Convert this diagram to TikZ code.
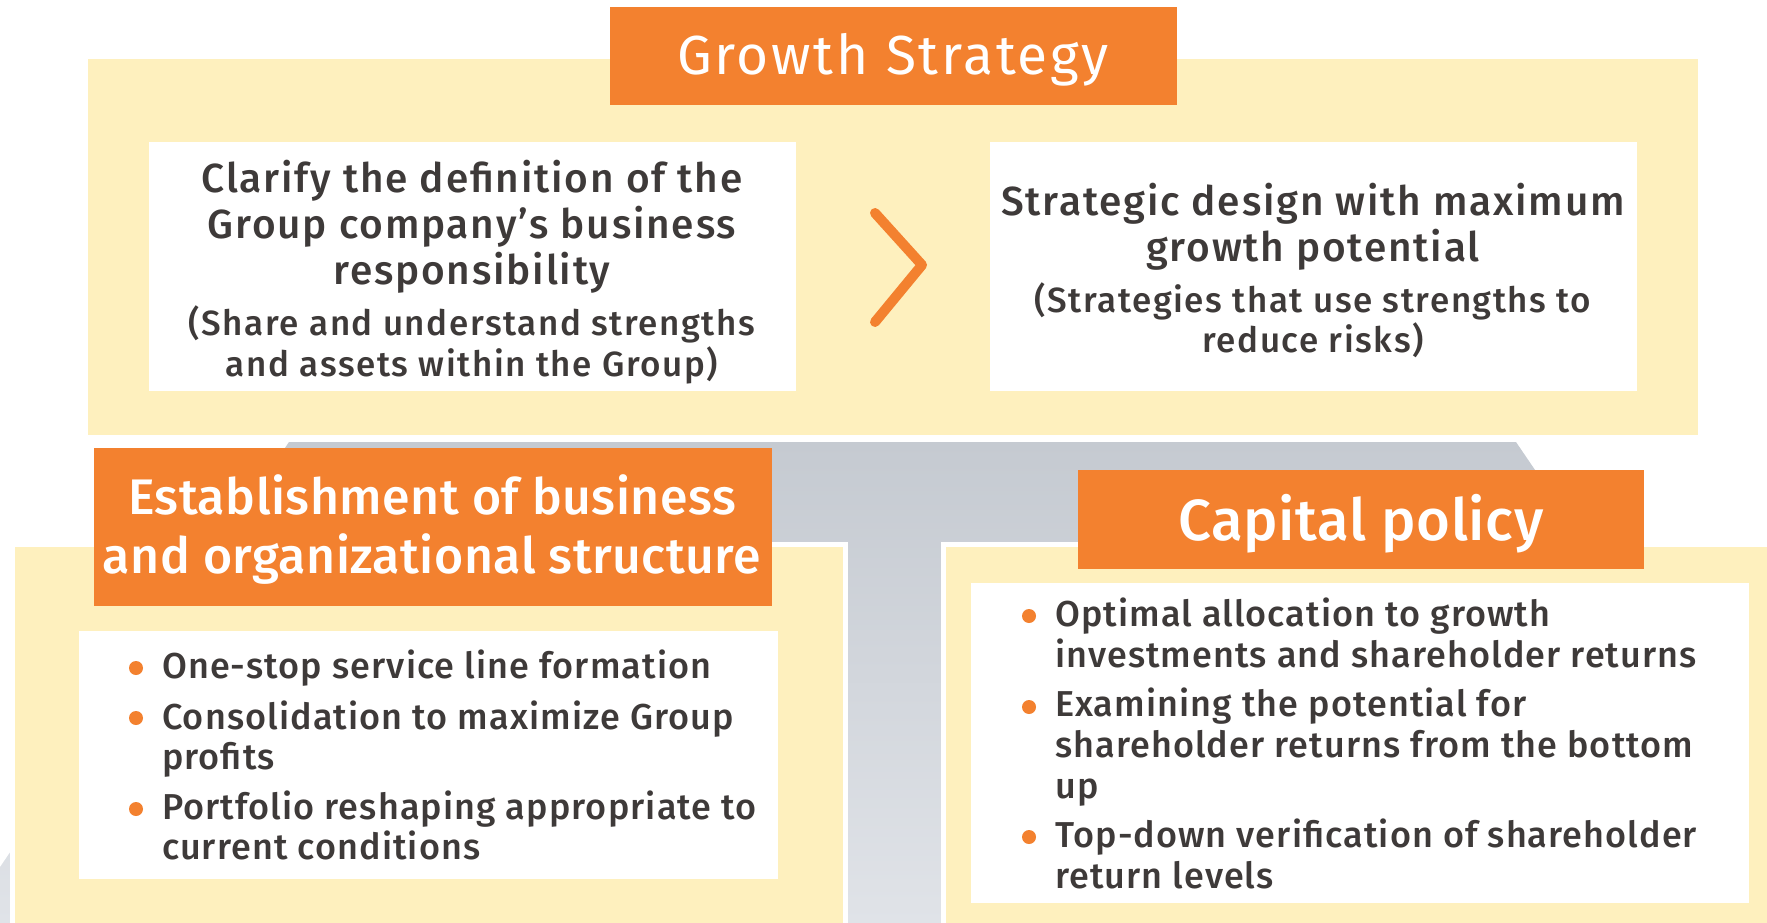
\documentclass[tikz,border=0pt]{standalone}
\usepackage{fontspec}
\setmainfont{Fira Sans}[UprightFont=* Medium]
\newfontfamily\bodyface{Fira Sans}[UprightFont=* Medium, LetterSpace=4.5]
\newfontfamily\itemface{Fira Sans}[UprightFont=* Medium, LetterSpace=3]
\newfontfamily\titleface{Fira Sans}[LetterSpace=5]
\newfontfamily\headface{Fira Sans}[UprightFont=* Medium, LetterSpace=1]
\definecolor{accent}{HTML}{F3812F}
\definecolor{cream}{HTML}{FEF0BE}
\definecolor{ink}{HTML}{3E3A39}
\definecolor{slatetop}{HTML}{C5CAD1}
\definecolor{slatebot}{HTML}{E0E3E8}
\begin{document}
\begin{tikzpicture}[x=1pt,y=-1pt,
  box/.style={inner sep=0pt, outer sep=0pt, anchor=north west},
  creampanel/.style={box, fill=cream},
  framedpanel/.style={box, fill=cream, draw=white, line width=5pt},
  whitebox/.style={box, fill=white},
  header/.style={box, fill=accent},
  txt/.style={inner sep=0pt, text=ink, anchor=base},
  big/.style={txt, font=\bodyface\fontsize{40.6}{48}\selectfont},
  small/.style={txt, font=\bodyface\fontsize{35}{42}\selectfont},
  item/.style={txt, anchor=base west, font=\itemface\fontsize{36}{42}\selectfont},
  headtxt/.style={inner sep=0pt, text=white, anchor=base, font=\headface\fontsize{50}{58}\selectfont},
  dot/.style={circle, fill=accent, inner sep=0pt, minimum size=14pt}]
\useasboundingbox (0,0) rectangle (1767,923);
\begin{scope}
\clip (0,0) rectangle (1767,923);
% grey trapezoid behind the three blocks
\shade[top color=slatetop, bottom color=slatebot]
  (289,442) -- (1516,442) -- (1843,923) -- (-38,923) -- cycle;

% top block: growth strategy
\node[creampanel, minimum width=1610pt, minimum height=376pt] (gpanel) at (88,59) {};
\node[whitebox, minimum width=647pt, minimum height=249pt] (gleft) at (149,142) {};
\node[whitebox, minimum width=647pt, minimum height=249pt] (gright) at (990,142) {};
\node[header, minimum width=567pt, minimum height=98pt] (ghead) at (610,7) {};

% lower blocks
\node[framedpanel, minimum width=833pt, minimum height=400pt] (opanel) at (12.5,544.5) {};
\node[framedpanel, minimum width=840pt, minimum height=400pt] (cpanel) at (943.5,544.5) {};
\node[whitebox, minimum width=699pt, minimum height=248pt] (obox) at (79,631) {};
\node[whitebox, minimum width=778pt, minimum height=320pt] (cbox) at (971,583) {};
\node[header, minimum width=678pt, minimum height=158pt] (ohead) at (94,448) {};
\node[header, minimum width=566pt, minimum height=99pt] (chead) at (1078,470) {};
\end{scope}

% chevron between the two top boxes
\coordinate (chevA) at (875,213);
\coordinate (chevB) at (922,265);
\coordinate (chevC) at (875,322);
\draw[accent, line width=10pt, line cap=round, line join=round] (chevA) -- (chevB) -- (chevC);

% header titles
\node[headtxt, font=\titleface\fontsize{55}{62}\selectfont] (gtitle) at (893,75) {Growth Strategy};
\node[headtxt] (otitleA) at (432,514) {Establishment of business};
\node[headtxt] (otitleB) at (432,573.5) {and organizational structure};
\node[headtxt, font=\headface\fontsize{58}{66}\selectfont] (ctitle) at (1361,540.5) {Capital policy};

% top left box text
\node[big] (la) at (472,192) {Clarify the definition of the};
\node[big] (lb) at (472,238) {Group company’s business};
\node[big] (lc) at (472,284) {responsibility};
\node[small] (ld) at (472,335) {(Share and understand strengths};
\node[small] (le) at (472,376) {and assets within the Group)};

% top right box text
\node[big] (ra) at (1313,215) {Strategic design with maximum};
\node[big] (rb) at (1313,261) {growth potential};
\node[small] (rc) at (1313,312) {(Strategies that use strengths to};
\node[small] (rd) at (1313,352) {reduce risks)};

% organisation bullets
\node[dot] (ob1) at (136,668) {};
\node[dot] (ob2) at (136,718) {};
\node[dot] (ob3) at (136,809) {};
\node[item] (oa) at (162,678) {One-stop service line formation};
\node[item] (ob) at (162,729) {Consolidation to maximize Group};
\node[item] (oc) at (162,769) {profits};
\node[item] (od) at (162,819) {Portfolio reshaping appropriate to};
\node[item] (oe) at (162,859) {current conditions};

% capital policy bullets
\node[dot] (cb1) at (1029,616) {};
\node[dot] (cb2) at (1029,707) {};
\node[dot] (cb3) at (1029,837) {};
\node[item] (ca) at (1055,626) {Optimal allocation to growth};
\node[item] (cb) at (1055,667) {investments and shareholder returns};
\node[item] (cc) at (1055,716) {Examining the potential for};
\node[item] (cd) at (1055,757) {shareholder returns from the bottom};
\node[item] (ce) at (1055,798) {up};
\node[item] (cf) at (1055,847) {Top-down verification of shareholder};
\node[item] (cg) at (1055,888) {return levels};
\end{tikzpicture}
\end{document}
